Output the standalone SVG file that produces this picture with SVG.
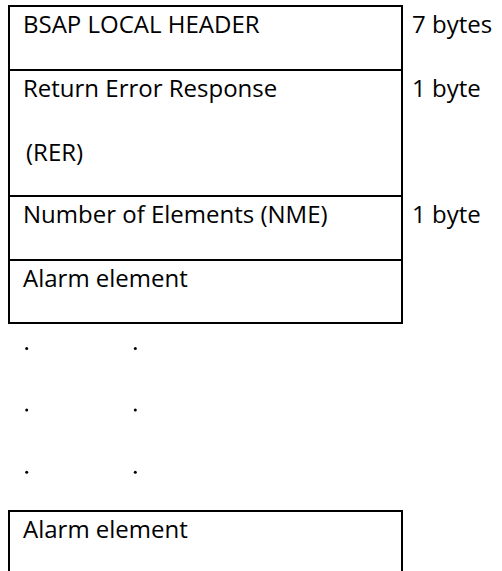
<svg xmlns="http://www.w3.org/2000/svg" width="502" height="571" viewBox="0 0 502 571">
<style>
.box{fill:none;stroke:#000;stroke-width:2}
.t{font-family:"Open Sans","Liberation Sans",sans-serif;font-size:24px;fill:#000}
.dot{fill:#000}
</style>
<rect width="502" height="571" fill="#fff"/>
<g id="header"><rect class="box" x="9" y="6" width="393" height="64"/><text class="t" x="23" y="33">BSAP LOCAL HEADER</text></g>
<g id="rer"><rect class="box" x="9" y="70" width="393" height="126"/><text class="t" x="23" y="97">Return Error Response</text><text class="t" x="26" y="161">(RER)</text></g>
<g id="nme"><rect class="box" x="9" y="196" width="393" height="64"/><text class="t" x="23" y="223">Number of Elements (NME)</text></g>
<g id="alarm1"><rect class="box" x="9" y="260" width="393" height="63"/><text class="t" x="23" y="287">Alarm element</text></g>
<g id="alarm2"><rect class="box" x="9" y="511" width="393" height="80"/><text class="t" x="23" y="538">Alarm element</text></g>
<g id="sizes"><text class="t" x="412" y="33">7 bytes</text><text class="t" x="412" y="97">1 byte</text><text class="t" x="412" y="223">1 byte</text></g>
<g id="dots">
<circle class="dot" cx="26.7" cy="348.5" r="1.5"/><circle class="dot" cx="135.3" cy="348.5" r="1.5"/>
<circle class="dot" cx="26.7" cy="410" r="1.5"/><circle class="dot" cx="135.3" cy="410" r="1.5"/>
<circle class="dot" cx="26.7" cy="472.3" r="1.5"/><circle class="dot" cx="135.3" cy="472.3" r="1.5"/>
</g>
<g id="connectors"/>
</svg>
